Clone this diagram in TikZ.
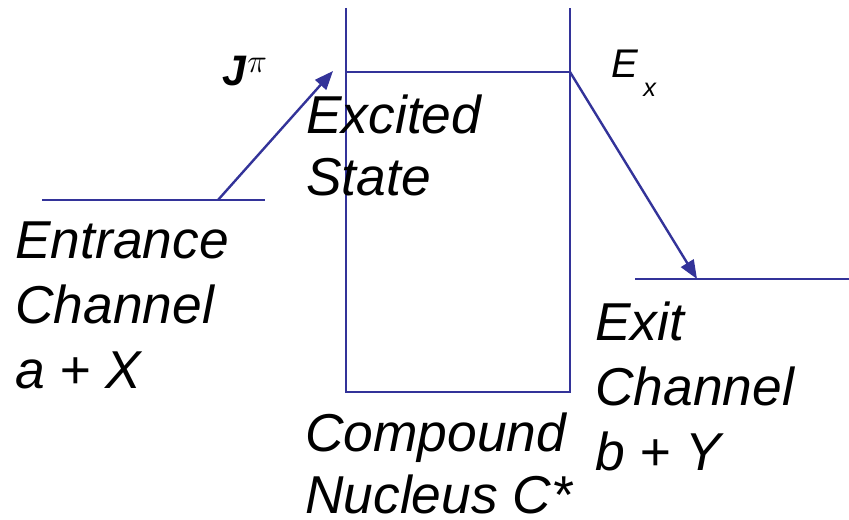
\documentclass[tikz,border=0pt]{standalone}
\usepackage{fontspec}
\setmainfont{Liberation Sans}
\usepackage{xcolor}
\definecolor{lvlblue}{RGB}{51,51,153}
\usepackage{tikz}
\usetikzlibrary{arrows.meta}

\begin{document}
\begin{tikzpicture}[x=0.75pt,y=-0.75pt,
  lvl/.style={lvlblue,line width=1.8pt},
  trans/.style={lvlblue,line width=1.8pt,-{Triangle[length=14pt,width=11pt]}},
  lbl/.style={font=\fontsize{40}{48.75}\selectfont\itshape,align=left,
    anchor=north west,inner sep=0pt},
  lblnarrow/.style={lbl,font=\fontsize{40}{46}\selectfont\itshape}]
\useasboundingbox (0,0) rectangle (849,520);
% compound nucleus
\coordinate (cnTL) at (346,8);
\coordinate (cnTR) at (570,8);
\coordinate (cnBL) at (346,392);
\coordinate (cnBR) at (570,392);
\draw[lvl] (cnTL) -- (cnBL) -- (cnBR) -- (cnTR);
\coordinate (exL) at (346,72);
\coordinate (exR) at (570,72);
\draw[lvl] (exL) -- (exR);
% entrance and exit levels
\coordinate (inL) at (42,200);
\coordinate (inR) at (265,200);
\coordinate (inP) at (218,200);
\draw[lvl] (inL) -- (inR);
\coordinate (outL) at (635,279);
\coordinate (outR) at (849,279);
\coordinate (outP) at (697,279);
\draw[lvl] (outL) -- (outR);
\coordinate (inTip) at (333,71);
\draw[trans] (inP) -- (inTip);
\draw[trans] (exR) -- (outP);
% labels
\node[lbl,font=\fontsize{32}{32}\selectfont\bfseries\itshape] (jpi) at (222,56)
  {J\hspace{1pt}\raisebox{10pt}{\fontsize{26}{26}\selectfont$\pi$}};
\node[lbl,font=\fontsize{30}{30}\selectfont\itshape] (ex) at (611,50)
  {E\hspace{4pt}\raisebox{-14pt}{\fontsize{19}{19}\selectfont x}};
\node[lblnarrow] (exc) at (306,95) {Excited\\State};
\node[lbl] (ent) at (15,222) {Entrance\\Channel\\a + X};
\node[lblnarrow] (cmp) at (305,413) {Compound\\Nucleus C*};
\node[lbl] (ext) at (595,302) {Exit\\Channel\\b + Y};
\end{tikzpicture}
\end{document}
